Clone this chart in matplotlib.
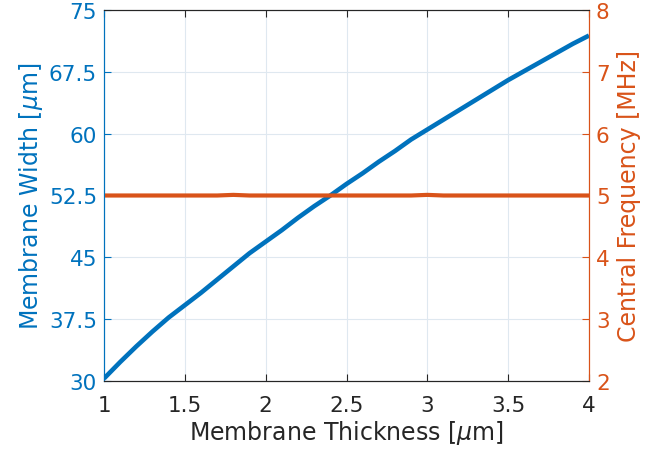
import matplotlib
matplotlib.use("Agg")
import matplotlib.pyplot as plt
import numpy as np

plt.rcParams["font.family"] = ["DejaVu Sans"]
plt.rcParams["mathtext.fontset"] = "dejavusans"

# Data
thickness = [1.0, 1.1, 1.2, 1.3, 1.4, 1.5, 1.6, 1.7, 1.8, 1.9, 2.0,
             2.1, 2.2, 2.3, 2.4, 2.5, 2.6, 2.7, 2.8, 2.9, 3.0,
             3.1, 3.2, 3.3, 3.4, 3.5, 3.6, 3.7, 3.8, 3.9, 4.0]
width = [30.3, 32.3, 34.2, 36.0, 37.7, 39.2, 40.7, 42.3, 43.9, 45.5, 46.9,
         48.3, 49.8, 51.2, 52.5, 53.9, 55.2, 56.6, 57.9, 59.3, 60.5,
         61.7, 62.9, 64.1, 65.3, 66.5, 67.6, 68.7, 69.8, 70.9, 71.9]
freq = [5.00, 5.00, 5.00, 5.00, 5.00, 5.00, 5.00, 5.00, 5.01, 5.00, 5.00,
        5.00, 5.00, 5.00, 5.00, 5.00, 5.00, 5.00, 5.00, 5.00, 5.01,
        5.00, 5.00, 5.00, 5.00, 5.00, 5.00, 5.00, 5.00, 5.00, 5.00]

x_ticks = [1, 1.5, 2, 2.5, 3, 3.5, 4]
x_ticklabels = ["1", "1.5", "2", "2.5", "3", "3.5", "4"]
w_ticks = [30, 37.5, 45, 52.5, 60, 67.5, 75]
w_ticklabels = ["30", "37.5", "45", "52.5", "60", "67.5", "75"]
f_ticks = [2, 3, 4, 5, 6, 7, 8]

blue = "#0072BD"
orange = "#D95319"
dark = "#262626"

fig = plt.figure(figsize=(6.65, 4.6), dpi=100)
ax = fig.add_axes([104 / 665, 1 - 382 / 460, 485 / 665, 371 / 460])
ax2 = ax.twinx()

ax.plot(thickness, width, color=blue, lw=3.3, solid_capstyle="butt")
ax2.plot(thickness, freq, color=orange, lw=3.0, solid_capstyle="butt")

ax.set_xlim(1, 4)
ax.set_ylim(30, 75)
ax2.set_ylim(2, 8)
ax.set_xticks(x_ticks)
ax.set_xticklabels(x_ticklabels)
ax.set_yticks(w_ticks)
ax.set_yticklabels(w_ticklabels)
ax2.set_yticks(f_ticks)

ax.grid(True, color="#dfe8f0", lw=0.8)
ax.set_axisbelow(True)

ax.tick_params(axis="x", direction="in", length=5, width=0.8, colors=dark,
               labelsize=15.5, pad=10, top=True)
ax.tick_params(axis="y", direction="in", length=5, width=0.8, colors=blue,
               labelsize=15.5, pad=5)
ax2.tick_params(axis="y", direction="in", length=5, width=0.8, colors=orange,
                labelsize=15.5, pad=5)

for a in (ax, ax2):
    a.spines["top"].set_color(dark)
    a.spines["bottom"].set_color(dark)
    a.spines["left"].set_color(blue)
    a.spines["right"].set_color(orange)
    for s in a.spines.values():
        s.set_linewidth(0.8)

ax.set_xlabel(r"Membrane Thickness [$\mu$m]", fontsize=17, color=dark,
              labelpad=2)
ax.set_ylabel(r"Membrane Width [$\mu$m]", fontsize=17, color=blue, labelpad=3)
ax2.set_ylabel("Central Frequency [MHz]", fontsize=17, color=orange,
               labelpad=5)

plt.savefig("out.png", dpi=100)
